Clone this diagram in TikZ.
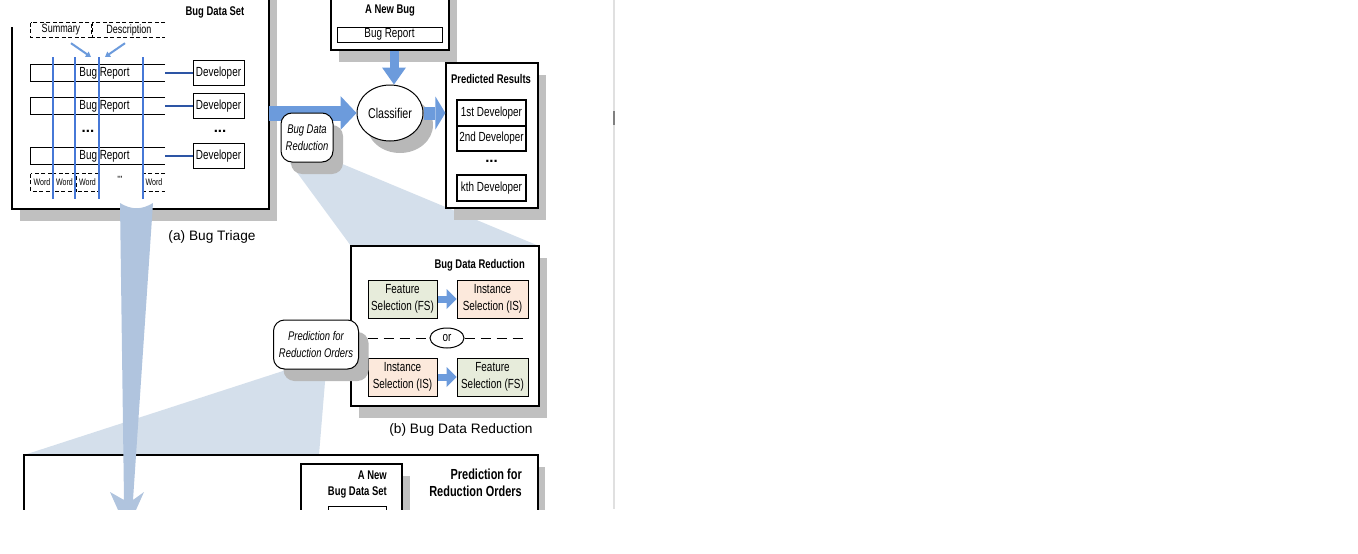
\documentclass[tikz,border=0pt]{standalone}
\usepackage{fontspec}
\setmainfont{Liberation Sans}
\newfontfamily\nar[FakeStretch=0.75]{Liberation Sans}
\usetikzlibrary{arrows.meta,shapes.geometric,shadows}

\definecolor{shadegray}{RGB}{192,192,192}
\definecolor{flowblue}{RGB}{108,155,220}
\definecolor{gridblue}{RGB}{70,120,215}
\definecolor{linkblue}{RGB}{45,85,165}
\definecolor{fanblue}{RGB}{212,223,235}
\definecolor{downblue}{RGB}{176,196,222}
\definecolor{fsgreen}{RGB}{231,236,219}
\definecolor{isorange}{RGB}{252,233,220}
\newcommand\fs[2]{\fontsize{#1}{#2}\selectfont}

\begin{document}
\begin{tikzpicture}[x=1pt,y=-1pt,
  frame/.style={draw,line width=1.2pt,fill=white,inner sep=0pt},
  boxshadow/.style={drop shadow={shadow xshift=8pt,shadow yshift=-12pt,fill=shadegray,opacity=1}},
  softshadow/.style={drop shadow={shadow xshift=10pt,shadow yshift=-12pt,fill=black!28,opacity=1}},
  cell/.style={draw,line width=1pt,fill=white,inner sep=0pt,font=\nar\fs{13.2}{15}},
  sel/.style={cell,align=center,minimum width=70pt,minimum height=38pt,font=\nar\fs{13.2}{16.5}},
  dashbox/.style={inner sep=0pt,minimum height=14pt,font=\nar\fs{12}{13}},
  rowbox/.style={inner sep=0pt,minimum width=134pt,minimum height=17pt},
  txt/.style={inner sep=0pt,font=\nar\fs{13.2}{15}},
  dots/.style={inner sep=0pt,font=\bfseries\fs{15}{15}},
  ttl/.style={inner sep=0pt,font=\nar\bfseries\fs{12.6}{16}},
  captxt/.style={inner sep=0pt,font=\fs{13.7}{16}},
  oval/.style={draw,line width=1pt,fill=white,rounded corners=11pt,align=center,inner sep=0pt,font=\nar\itshape\fs{12.6}{16.5}},
  thinflow/.style={flowblue,line width=2pt,-{Triangle[length=5pt,width=6pt]}},
  block/.style n args={3}{draw=flowblue,line width=#1,-{Triangle[width=#2,length=#3,line width=0pt]}},
  orline/.style={line width=1pt,dash pattern=on 10pt off 6pt}]
  \def\opn#1#2{
    \draw[#2] (#1.north east) -- (#1.north west) -- (#1.south west) -- (#1.south east);
  }

  \useasboundingbox (0,0) rectangle (1358,554);
  \clip (0,0) rectangle (1358,509);

  % zoom fans
  \fill[fanblue] (290,163) -- (340,163) -- (539,246) -- (351,246) -- cycle;
  \fill[fanblue] (286,370) -- (326,370) -- (319,455) -- (24,455) -- cycle;

  % (a) bug triage
  \fill[shadegray] (20,-9) rectangle (277,221);
  \node[fill=white,inner sep=0pt,minimum width=257pt,minimum height=230pt] (bds) at (140.5,94) {};
  \draw[line width=1.2pt] (12,27) -- (12,209) -- (269,209) -- (269,-21);
  \node[ttl] (bdsttl) at (215,12) {Bug Data Set};

  \node[dashbox,minimum width=60pt] (summ) at (61,30) {Summary};
  \node[dashbox,minimum width=72pt] (desc) at (129,30) {Description};
  \draw[line width=0.9pt,dash pattern=on 4pt off 2.5pt] (summ.north west) rectangle (summ.south east);
  \opn{desc}{line width=0.9pt,dash pattern=on 4pt off 2.5pt}

  \foreach \n/\y in {r1/73,r2/106,r3/156} {
    \node[rowbox] (\n) at (98,\y) {};
    \opn{\n}{line width=1.2pt}
  }
  \foreach \n/\x/\w in {w1/42/22,w2/64.5/23,w3/87.5/23} {
    \node[dashbox,minimum width=\w pt,minimum height=17pt,font=\nar\fs{9.4}{10}] (\n) at (\x,182.5) {Word};
    \draw[line width=0.9pt,dash pattern=on 4pt off 2.5pt] (\n.north west) rectangle (\n.south east);
  }
  \node[dashbox,minimum width=22pt,minimum height=17pt,font=\nar\fs{9.4}{10}] (w4) at (154,182.5) {Word};
  \opn{w4}{line width=0.9pt,dash pattern=on 4pt off 2.5pt}
  \node[txt,font=\fs{9}{9}] (wdots) at (120,179) {\textquotesingle\textquotesingle\textquotesingle};

  \foreach \x in {53,75,99,143}
    \draw[gridblue,line width=1.2pt] (\x,57) -- (\x,199);

  \foreach \n in {r1,r2,r3}
    \node[txt] (\n t) at ([xshift=6.5pt]\n.center) {Bug Report};
  \node[dots] (rdots) at (88,131) {...};

  \coordinate (sumend) at (91,57);
  \coordinate (desend) at (105,57);
  \draw[thinflow] ([shift={(10pt,-6pt)}]summ.south) -- (sumend);
  \draw[thinflow] ([shift={(-4pt,-6pt)}]desc.south) -- (desend);

  \foreach \n/\y in {d1/73,d2/106,d3/156}
    \node[cell,minimum width=51pt,minimum height=25pt] (\n) at (218.5,\y) {Developer};
  \node[dots] (ddots) at (220,131) {...};
  \foreach \i in {1,2,3}
    \draw[linkblue,line width=1.2pt] (r\i.east) -- (d\i.west);

  \node[captxt] (capa) at (212,237) {(a) Bug Triage};

  \node[frame,boxshadow,minimum width=118pt,minimum height=70pt] (newbug) at (390,15) {};
  \node[ttl] (newbugttl) at (390,11) {A New Bug};
  \node[cell,minimum width=105pt,minimum height=15pt] (newrep) at (389.5,34.5) {Bug Report};

  \node[ellipse,draw,line width=1pt,fill=white,softshadow,minimum width=66pt,minimum height=56pt,
    inner sep=0pt,font=\nar\fs{14.2}{15}] (cls) at (390,113) {Classifier};

  \node[frame,boxshadow,minimum width=92pt,minimum height=145pt] (pred) at (492,135.5) {};
  \node[ttl] (predttl) at (491,79) {Predicted Results};
  \node[cell,line width=1.4pt,minimum width=69pt,minimum height=26pt] (p1) at (491.5,113) {1st Developer};
  \node[cell,line width=1.4pt,minimum width=69pt,minimum height=25pt] (p2) at (491.5,138.5) {2nd Developer};
  \node[dots] (pdots) at (491.5,161) {...};
  \node[cell,line width=1.4pt,minimum width=69pt,minimum height=26pt] (pk) at (491.5,188) {kth Developer};

  \draw[block={15pt}{34pt}{16pt}] (bds.east |- cls) -- (cls.west);
  \draw[block={13pt}{33pt}{10pt}] (cls.east) -- (pred.west |- cls.east);
  \draw[block={9pt}{24pt}{17pt}] ([xshift=4pt]newbug.south) -- ([xshift=4pt]cls.north);

  \node[oval,softshadow,minimum width=52pt,minimum height=49pt] (bdr) at (307,137.5) {Bug Data\\Reduction};

  % (b) bug data reduction
  \node[frame,boxshadow,minimum width=188pt,minimum height=160pt] (red) at (445,326) {};
  \node[ttl,anchor=east] (redttl) at (525,265) {Bug Data Reduction};
  \node[sel,fill=fsgreen,minimum width=69pt] (fs1) at (402.5,299) {Feature\\Selection (FS)};
  \node[sel,fill=isorange,minimum width=71pt] (is1) at (492.5,299) {Instance\\Selection (IS)};
  \node[sel,fill=isorange,minimum width=69pt] (is2) at (402.5,377) {Instance\\Selection (IS)};
  \node[sel,fill=fsgreen,minimum width=71pt] (fs2) at (492.5,377) {Feature\\Selection (FS)};
  \draw[block={7pt}{20pt}{10pt}] (fs1) -- (is1);
  \draw[block={7pt}{20pt}{10pt}] (is2) -- (fs2);

  \node[ellipse,draw,line width=1pt,fill=white,minimum width=34pt,minimum height=20pt,
    inner sep=0pt,font=\nar\fs{13.2}{13}] (orn) at (447,338) {or};
  \draw[orline] (fs1.west |- orn) -- (orn);
  \draw[orline] (orn) -- (is1.east |- orn);

  \node[oval,softshadow,minimum width=85pt,minimum height=49pt] (pro) at (316,344.5) {Prediction for\\Reduction Orders};
  \node[captxt] (capb) at (461,430) {(b) Bug Data Reduction};

  % prediction for reduction orders
  \node[frame,drop shadow={shadow xshift=7pt,shadow yshift=-12pt,fill=shadegray,opacity=1},
    minimum width=514pt,minimum height=120pt] (low) at (281,515) {};
  \node[frame,boxshadow,minimum width=101pt,minimum height=80pt] (newset) at (351.5,504) {};
  \node[ttl,align=right,anchor=north east] (newsetttl) at (387,471) {A New\\Bug Data Set};
  \node[cell,minimum width=58pt,minimum height=24pt] (newsetin) at (357,518) {};
  \node[ttl,align=right,anchor=north east,font=\nar\bfseries\fs{14.6}{17}] (prottl) at (522,469) {Prediction for\\Reduction Orders};

  \fill[downblue] (120,203) .. controls (131,210) and (142,210) .. (153,203) -- (133,500)
    -- (144,492) -- (127,530) -- (110,492) -- (124,500) -- cycle;

  \draw[black!12,line width=1.5pt] (614,0) -- (614,509);
  \draw[black!50,line width=1.5pt] (614,111) -- (614,125);
\end{tikzpicture}
\end{document}
